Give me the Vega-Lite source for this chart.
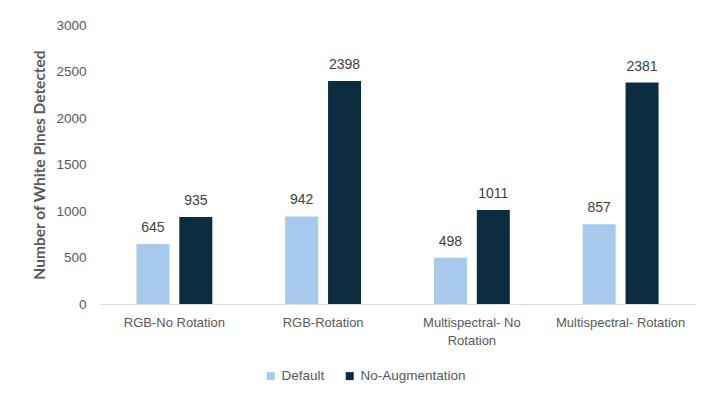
{
  "$schema": "https://vega.github.io/schema/vega-lite/v6.json",
  "width": 595,
  "height": 279,
  "autosize": {"type": "none"},
  "padding": {"left": 100, "top": 25, "right": 26, "bottom": 103},
  "background": "white",
  "data": {
    "values": [
      {"config": "RGB-No Rotation", "series": "Default", "count": 645},
      {"config": "RGB-No Rotation", "series": "No-Augmentation", "count": 935},
      {"config": "RGB-Rotation", "series": "Default", "count": 942},
      {"config": "RGB-Rotation", "series": "No-Augmentation", "count": 2398},
      {"config": "Multispectral- No Rotation", "series": "Default", "count": 498},
      {"config": "Multispectral- No Rotation", "series": "No-Augmentation", "count": 1011},
      {"config": "Multispectral- Rotation", "series": "Default", "count": 857},
      {"config": "Multispectral- Rotation", "series": "No-Augmentation", "count": 2381}
    ]
  },
  "encoding": {
    "x": {
      "field": "config",
      "type": "nominal",
      "sort": null,
      "scale": {"paddingInner": 0.49, "paddingOuter": 0.245},
      "axis": {
        "title": null,
        "labelAngle": 0,
        "labelExpr": "datum.label == 'Multispectral- No Rotation' ? ['Multispectral- No', 'Rotation'] : datum.label",
        "labelLineHeight": 18,
        "labelPadding": 12,
        "labelFont": "Liberation Sans",
        "labelFontSize": 13,
        "labelColor": "#595959",
        "labelLimit": 300,
        "ticks": false,
        "domainColor": "#d9d9d9",
        "domainWidth": 1
      }
    },
    "xOffset": {
      "field": "series",
      "type": "nominal",
      "scale": {"paddingInner": 0.23, "paddingOuter": 0}
    },
    "y": {
      "field": "count",
      "type": "quantitative",
      "scale": {"domain": [0, 3000]},
      "axis": {
        "title": "Number of White Pines Detected",
        "titleFont": "Lato",
        "titleFontWeight": "bold",
        "titleFontSize": 15.5,
        "titleColor": "#595959",
        "titlePadding": 8,
        "values": [0, 500, 1000, 1500, 2000, 2500, 3000],
        "format": "d",
        "labelFont": "Liberation Sans",
        "labelFontSize": 13.5,
        "labelColor": "#595959",
        "labelPadding": 14,
        "ticks": false,
        "domain": false,
        "grid": false
      }
    }
  },
  "layer": [
    {
      "mark": {"type": "bar"},
      "encoding": {
        "color": {
          "field": "series",
          "type": "nominal",
          "scale": {"domain": ["Default", "No-Augmentation"], "range": ["#a6c9ec", "#0c2d40"]},
          "legend": {
            "title": null,
            "orient": "none",
            "legendX": 164,
            "legendY": 344,
            "direction": "horizontal",
            "symbolType": "square",
            "symbolSize": 64,
            "symbolStrokeWidth": 0,
            "labelOffset": 4,
            "labelFont": "Liberation Sans",
            "labelFontSize": 13.5,
            "labelColor": "#595959",
            "columnPadding": 18
          }
        }
      }
    },
    {
      "mark": {"type": "text", "baseline": "bottom", "dy": -9, "font": "Liberation Sans", "fontSize": 14, "color": "#404040"},
      "encoding": {
        "text": {"field": "count", "type": "quantitative"}
      }
    }
  ],
  "config": {"view": {"stroke": null}}
}
